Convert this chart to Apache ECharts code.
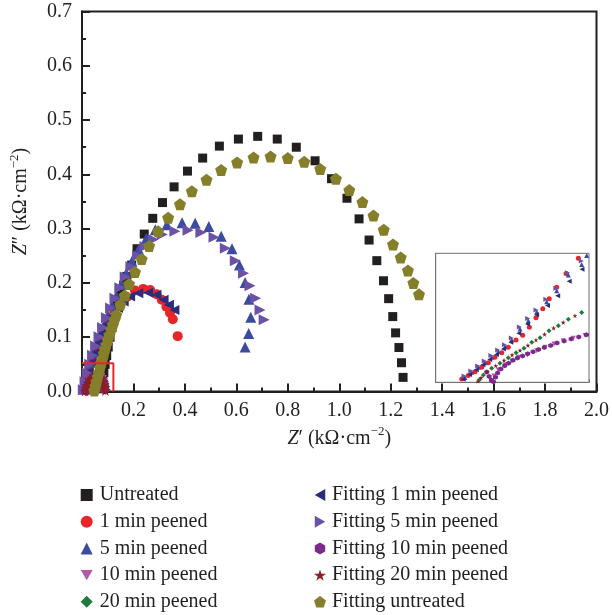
<!DOCTYPE html>
<html>
<head>
<meta charset="utf-8">
<script src="https://cdn.jsdelivr.net/npm/echarts@6/dist/echarts.min.js"></script>
<style>
    html, body { margin: 0; padding: 0; background: #fff; }
    #chart { width: 612px; height: 615px; }
</style>
</head>
<body>
<div id="chart"></div>
<script>
// Nyquist data, Z' / Z'' in kOhm.cm^2
var untreated = [[0.075,0.005],[0.080,0.020],[0.085,0.035],[0.090,0.050],[0.096,0.066],[0.102,0.082],[0.109,0.100],[0.117,0.118],[0.126,0.137],[0.137,0.158],[0.150,0.180],[0.162,0.196],[0.174,0.212],[0.193,0.233],[0.214,0.263],[0.242,0.290],[0.275,0.319],[0.313,0.348],[0.358,0.377],[0.410,0.406],[0.469,0.430],[0.534,0.452],[0.608,0.465],[0.683,0.470],[0.759,0.465],[0.833,0.450],[0.906,0.425],[0.970,0.392],[1.030,0.356],[1.077,0.318],[1.116,0.279],[1.146,0.241],[1.172,0.204],[1.192,0.171],[1.208,0.138],[1.219,0.108],[1.232,0.081],[1.242,0.053],[1.248,0.026]];
var oneMin = [[0.010,0.004],[0.018,0.020],[0.028,0.038],[0.040,0.056],[0.053,0.074],[0.068,0.092],[0.085,0.110],[0.104,0.128],[0.125,0.145],[0.148,0.160],[0.174,0.174],[0.206,0.186],[0.238,0.189],[0.265,0.187],[0.290,0.179],[0.310,0.169],[0.328,0.156],[0.342,0.145],[0.353,0.133],[0.372,0.102]];
var fiveMin = [[0.008,0.004],[0.015,0.020],[0.024,0.037],[0.034,0.054],[0.046,0.072],[0.059,0.090],[0.072,0.107],[0.086,0.123],[0.100,0.140],[0.116,0.158],[0.133,0.176],[0.152,0.197],[0.172,0.218],[0.194,0.240],[0.220,0.262],[0.250,0.282],[0.285,0.298],[0.330,0.307],[0.389,0.311],[0.440,0.310],[0.493,0.304],[0.541,0.286],[0.583,0.263],[0.612,0.233],[0.634,0.201],[0.649,0.170],[0.656,0.137],[0.648,0.107],[0.634,0.082]];
var tenMin = [[0.018,0.001],[0.022,0.008],[0.027,0.014],[0.033,0.019],[0.040,0.023],[0.048,0.026],[0.056,0.027],[0.064,0.027],[0.071,0.025],[0.077,0.021],[0.082,0.016],[0.085,0.010],[0.087,0.004]];
var twentyMin = [[0.014,0.002],[0.018,0.009],[0.023,0.015],[0.029,0.020],[0.036,0.024],[0.044,0.027],[0.052,0.029],[0.060,0.029],[0.068,0.028],[0.075,0.025],[0.081,0.021],[0.086,0.015],[0.089,0.009],[0.091,0.003]];
var fitOne = [[0.008,0.003],[0.016,0.019],[0.026,0.036],[0.037,0.053],[0.050,0.071],[0.064,0.089],[0.080,0.107],[0.098,0.124],[0.118,0.140],[0.140,0.154],[0.162,0.166],[0.187,0.175],[0.219,0.181],[0.257,0.182],[0.289,0.178],[0.317,0.169],[0.338,0.160],[0.359,0.150]];
var fitFive = [[0.005,0.003],[0.012,0.018],[0.020,0.034],[0.030,0.050],[0.041,0.067],[0.053,0.084],[0.066,0.101],[0.080,0.118],[0.095,0.136],[0.111,0.154],[0.128,0.172],[0.147,0.191],[0.168,0.211],[0.190,0.230],[0.216,0.250],[0.245,0.267],[0.277,0.280],[0.312,0.289],[0.361,0.295],[0.412,0.297],[0.462,0.293],[0.513,0.284],[0.557,0.264],[0.596,0.241],[0.628,0.218],[0.653,0.195],[0.675,0.172],[0.692,0.150],[0.708,0.132]];
var fitTen = [[0.016,0.001],[0.020,0.007],[0.025,0.013],[0.031,0.018],[0.038,0.022],[0.046,0.025],[0.054,0.026],[0.062,0.026],[0.069,0.024],[0.075,0.021],[0.080,0.016],[0.084,0.010],[0.086,0.004]];
var fitTwenty = [[0.012,0.001],[0.015,0.006],[0.019,0.011],[0.024,0.016],[0.030,0.021],[0.037,0.025],[0.045,0.028],[0.053,0.029],[0.061,0.029],[0.069,0.027],[0.076,0.024],[0.082,0.019],[0.086,0.013],[0.089,0.007],[0.091,0.002]];
var fitUntreated = [[0.048,0.002],[0.052,0.010],[0.056,0.018],[0.061,0.027],[0.065,0.035],[0.070,0.044],[0.075,0.053],[0.080,0.061],[0.085,0.070],[0.089,0.078],[0.094,0.086],[0.100,0.095],[0.106,0.104],[0.113,0.114],[0.120,0.123],[0.126,0.132],[0.133,0.141],[0.149,0.160],[0.166,0.177],[0.183,0.198],[0.206,0.220],[0.232,0.244],[0.261,0.268],[0.296,0.295],[0.335,0.320],[0.381,0.345],[0.427,0.369],[0.484,0.390],[0.541,0.408],[0.603,0.422],[0.667,0.431],[0.733,0.433],[0.800,0.430],[0.864,0.423],[0.926,0.410],[0.987,0.392],[1.039,0.371],[1.090,0.349],[1.133,0.324],[1.173,0.298],[1.209,0.271],[1.239,0.247],[1.267,0.223],[1.288,0.200],[1.310,0.179]];

// zoomed high-frequency part (inset)
var insetOne = [[0.0204,0.0013],[0.0255,0.0026],[0.0308,0.0041],[0.0360,0.0058],[0.0412,0.0076],[0.0464,0.0097],[0.0517,0.0115],[0.0568,0.0136],[0.0629,0.0164],[0.0681,0.0182],[0.0733,0.0213],[0.0785,0.0250],[0.0838,0.0285],[0.0889,0.0324],[0.0947,0.0368],[0.1020,0.0422],[0.1117,0.0481]];
var insetFive = [[0.0229,0.0019],[0.0282,0.0039],[0.0334,0.0058],[0.0386,0.0076],[0.0438,0.0097],[0.0490,0.0119],[0.0543,0.0138],[0.0595,0.0164],[0.0660,0.0207],[0.0725,0.0239],[0.0791,0.0272],[0.0869,0.0312],[0.0947,0.0355],[0.1038,0.0416],[0.1143,0.0457],[0.1182,0.0491]];
var insetTen = [[0.0438,0.0006],[0.0457,0.0024],[0.0490,0.0048],[0.0543,0.0067],[0.0595,0.0083],[0.0647,0.0097],[0.0717,0.0106],[0.0791,0.0122],[0.0856,0.0136],[0.0926,0.0148],[0.0999,0.0161],[0.1077,0.0171],[0.1169,0.0181]];
var insetTwenty = [[0.0341,0.0009],[0.0373,0.0028],[0.0438,0.0054],[0.0503,0.0074],[0.0568,0.0095],[0.0629,0.0115],[0.0691,0.0132],[0.0752,0.0155],[0.0817,0.0173],[0.0887,0.0200],[0.0960,0.0219],[0.1038,0.0244],[0.1143,0.0271]];
var insetFitOne = [[0.0215,0.0012],[0.0265,0.0030],[0.0318,0.0049],[0.0370,0.0068],[0.0423,0.0088],[0.0476,0.0108],[0.0530,0.0129],[0.0588,0.0155],[0.0650,0.0190],[0.0718,0.0226],[0.0790,0.0262],[0.0875,0.0298],[0.0955,0.0335],[0.1045,0.0392],[0.1145,0.0438]];
var insetFitFive = [[0.0222,0.0024],[0.0275,0.0044],[0.0328,0.0063],[0.0380,0.0083],[0.0432,0.0104],[0.0485,0.0125],[0.0538,0.0146],[0.0592,0.0172],[0.0655,0.0214],[0.0720,0.0247],[0.0785,0.0280],[0.0862,0.0322],[0.0940,0.0365],[0.1032,0.0425],[0.1140,0.0470]];
var insetFitTen = [[0.0400,0.0040],[0.0418,0.0022],[0.0436,0.0008],[0.0452,0.0002],[0.0468,0.0020],[0.0485,0.0036],[0.0510,0.0052],[0.0540,0.0064],[0.0570,0.0074],[0.0605,0.0085],[0.0640,0.0094],[0.0680,0.0102],[0.0720,0.0111],[0.0762,0.0118],[0.0805,0.0127],[0.0850,0.0135],[0.0900,0.0143],[0.0950,0.0152],[0.1005,0.0160],[0.1060,0.0168],[0.1120,0.0176],[0.1180,0.0184]];
var insetFitTwenty = [[0.0330,0.0004],[0.0355,0.0018],[0.0400,0.0040],[0.0470,0.0064],[0.0535,0.0085],[0.0598,0.0106],[0.0660,0.0124],[0.0722,0.0143],[0.0785,0.0164],[0.0852,0.0186],[0.0923,0.0210],[0.0998,0.0232],[0.1090,0.0258]];

// red box marking the zoomed region
var redBox = [[0,0.052],[0.122,0.052],[0.122,0]];

var names = ['Untreated', '1 min peened', '5 min peened', '10 min peened', '20 min peened',
    'Fitting 1 min peened', 'Fitting 5 min peened', 'Fitting 10 min peened', 'Fitting 20 min peened', 'Fitting untreated'];

var SERIF = 'Liberation Serif';
var INK = '#231f20';

var sym = {
    square: 'rect',
    circle: 'circle',
    up: 'triangle',
    down: 'path://M0,0L10,0L5,8.7Z',
    diamond: 'diamond',
    left: 'path://M0,5L8.7,0L8.7,10Z',
    right: 'path://M0,0L8.7,5L0,10Z',
    hexagon: 'path://M5,0L9.33,2.5L9.33,7.5L5,10L0.67,7.5L0.67,2.5Z',
    star: 'path://M5,0L6.123,3.455L9.755,3.455L6.816,5.59L7.939,9.045L5,6.91L2.061,9.045L3.184,5.59L0.245,3.455L3.877,3.455Z',
    pentagon: 'path://M5,0L9.755,3.455L7.939,9.045L2.061,9.045L0.245,3.455Z'
};

var styles = [
    {sym: sym.square, color: '#231f20', size: 9},
    {sym: sym.circle, color: '#e8262a', size: 10},
    {sym: sym.up, color: '#3b4ba0', size: 11},
    {sym: sym.down, color: '#b35aa9', size: 10},
    {sym: sym.diamond, color: '#1f7a3d', size: 10},
    {sym: sym.left, color: '#2b2c7c', size: 10},
    {sym: sym.right, color: '#6b52a6', size: 11},
    {sym: sym.hexagon, color: '#7b2a8b', size: 10},
    {sym: sym.star, color: '#8b1e24', size: 11},
    {sym: sym.pentagon, color: '#867f2a', size: 12}
];

var mainData = [untreated, oneMin, fiveMin, tenMin, twentyMin, fitOne, fitFive, fitTen, fitTwenty, fitUntreated];
var insetData = [null, insetOne, insetFive, insetTen, insetTwenty, insetFitOne, insetFitFive, insetFitTen, insetFitTwenty, null];

function extend(a, b) {
    var o = {};
    for (var k in a) o[k] = a[k];
    for (var m in b) o[m] = b[m];
    return o;
}

var series = [];
for (var i = 0; i < names.length; i++) {
    series.push({
        name: names[i],
        type: 'scatter',
        xAxisIndex: 0,
        yAxisIndex: 0,
        data: mainData[i],
        symbol: styles[i].sym,
        symbolSize: styles[i].size,
        itemStyle: {color: styles[i].color, opacity: 1},
        z: 2 + i * 0.01
    });
}
for (var j = 0; j < names.length; j++) {
    if (!insetData[j]) continue;
    series.push({
        name: names[j],
        type: 'scatter',
        xAxisIndex: 1,
        yAxisIndex: 1,
        data: insetData[j],
        symbol: styles[j].sym,
        symbolSize: 5,
        itemStyle: {color: styles[j].color, opacity: 1},
        z: 6
    });
}
series.push({
    type: 'line',
    xAxisIndex: 0,
    yAxisIndex: 0,
    data: redBox,
    symbol: 'none',
    silent: true,
    lineStyle: {color: '#e8262a', width: 2},
    z: 4
});

function legendItems(from, to) {
    var arr = [];
    for (var k = from; k < to; k++) {
        arr.push({name: names[k], icon: styles[k].sym});
    }
    return arr;
}

var legendBase = {
    orient: 'vertical',
    top: 480,
    height: 140,
    itemWidth: 12,
    itemHeight: 12,
    itemGap: 6.7,
    selectedMode: false,
    textStyle: {fontFamily: SERIF, fontSize: 20, color: INK, lineHeight: 20, padding: [0, 0, 0, 2]}
};

var nameRich = {
    i: {fontFamily: SERIF, fontSize: 20, fontStyle: 'italic', color: INK},
    s: {fontFamily: SERIF, fontSize: 13, color: INK, verticalAlign: 'top', lineHeight: 13}
};

var chart = echarts.init(document.getElementById('chart'), null, {renderer: 'canvas'});
var option = {
    animation: false,
    backgroundColor: '#fff',
    grid: [
        {left: 75.5, top: 11.5, width: 521.5, height: 380, show: true, borderColor: INK, borderWidth: 2, backgroundColor: 'transparent'},
        {left: 435.7, top: 253.3, width: 153.3, height: 129, show: true, borderColor: '#6d6d6d', borderWidth: 1, backgroundColor: '#fff', z: 5}
    ],
    legend: [
        extend(legendBase, {left: 75.7, data: legendItems(0, 5)}),
        extend(legendBase, {left: 309, data: legendItems(5, 10), textStyle: extend(legendBase.textStyle, {padding: [0, 0, 0, 1]})})
    ],
    xAxis: [{
        gridIndex: 0,
        type: 'value',
        min: 0,
        max: 2.0,
        interval: 0.2,
        name: '{i|Z}′ (kΩ·cm{s|−2})',
        nameLocation: 'middle',
        nameGap: 34,
        nameTextStyle: {fontFamily: SERIF, fontSize: 20, color: INK, lineHeight: 26, rich: nameRich},
        axisLine: {show: true, onZero: false, lineStyle: {color: INK, width: 2}},
        axisTick: {show: true, inside: true, length: 8, lineStyle: {color: INK, width: 2}},
        minorTick: {show: true, splitNumber: 2, length: 4, lineStyle: {color: INK, width: 2}},
        splitLine: {show: false},
        axisLabel: {
            fontFamily: SERIF, fontSize: 20, color: INK, margin: 9,
            formatter: function (v) { return v === 0 ? '' : v.toFixed(1); }
        }
    }, {
        gridIndex: 1,
        type: 'value',
        min: 0,
        max: 0.12,
        interval: 0.02,
        axisLine: {show: true, onZero: false, lineStyle: {color: '#6d6d6d', width: 1}},
        axisTick: {show: true, inside: true, length: 3, lineStyle: {color: '#6d6d6d', width: 1}},
        splitLine: {show: false},
        axisLabel: {show: false}
    }],
    yAxis: [{
        gridIndex: 0,
        type: 'value',
        min: 0,
        max: 0.7,
        interval: 0.1,
        name: '{i|Z}″ (kΩ·cm{s|−2})',
        nameLocation: 'middle',
        nameGap: 48,
        nameTextStyle: {fontFamily: SERIF, fontSize: 20, color: INK, lineHeight: 26, rich: nameRich},
        axisLine: {show: true, onZero: false, lineStyle: {color: INK, width: 2}},
        axisTick: {show: true, inside: true, length: 8, lineStyle: {color: INK, width: 2}},
        minorTick: {show: true, splitNumber: 2, length: 4, lineStyle: {color: INK, width: 2}},
        splitLine: {show: false},
        axisLabel: {
            fontFamily: SERIF, fontSize: 20, color: INK, margin: 10,
            formatter: function (v) { return v.toFixed(1); }
        }
    }, {
        gridIndex: 1,
        type: 'value',
        min: 0,
        max: 0.05,
        interval: 0.005,
        axisLine: {show: true, onZero: false, lineStyle: {color: '#6d6d6d', width: 1}},
        axisTick: {show: true, inside: true, length: 3, lineStyle: {color: '#6d6d6d', width: 1}},
        splitLine: {show: false},
        axisLabel: {show: false}
    }],
    series: series
};

chart.setOption(option);
</script>
</body>
</html>
